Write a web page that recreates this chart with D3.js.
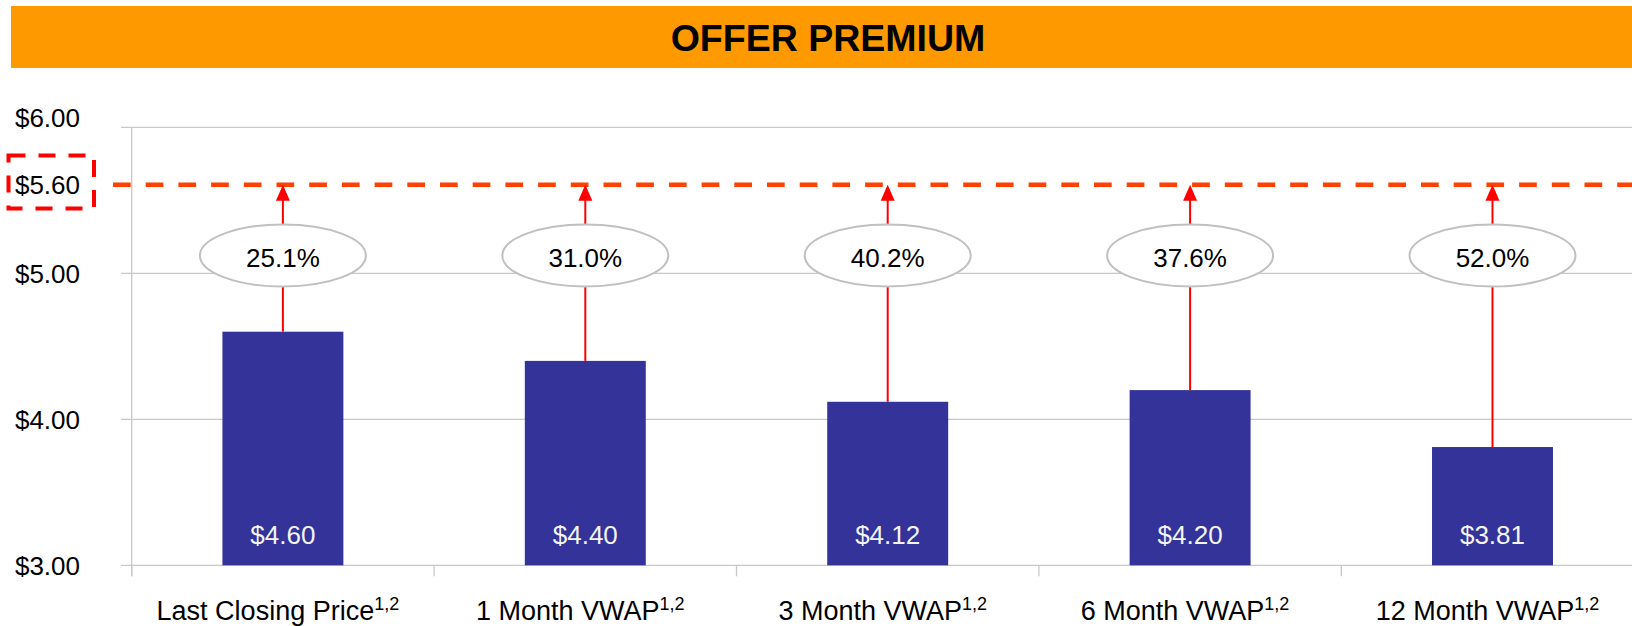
<!DOCTYPE html>
<html>
<head>
<meta charset="utf-8">
<script src="https://cdn.jsdelivr.net/npm/d3@7"></script>
<style>
  html, body { margin: 0; padding: 0; background: #fff; }
  svg { display: block; font-family: "Liberation Sans", Arial, sans-serif; }
</style>
</head>
<body>
<svg id="chart" width="1632" height="626"></svg>
<script>
// ---- data ----
const categories = ["Last Closing Price", "1 Month VWAP", "3 Month VWAP", "6 Month VWAP", "12 Month VWAP"];
const footnote = "1,2";
const prices = [4.60, 4.40, 4.12, 4.20, 3.81];
const premiums = ["25.1%", "31.0%", "40.2%", "37.6%", "52.0%"];
const offerPrice = 5.60;
const yTicks = [3, 4, 5, 6];
const title = "OFFER PREMIUM";

// ---- layout ----
const W = 1632, H = 626;
const axisX = 131.7, step = 302.4;
const yTop = 127.3, yBottom = 565.3;
const svg = d3.select("#chart");

const x = d3.scaleBand().domain(categories)
  .range([axisX, axisX + step * categories.length])
  .paddingInner(0.6).paddingOuter(0.3);
const y = d3.scaleLinear().domain([3, 6]).range([yBottom, yTop]);
const fmt = v => "$" + d3.format(".2f")(v);

// title banner
svg.append("rect").attr("x", 11).attr("y", 6).attr("width", W - 11).attr("height", 62).attr("fill", "#FF9900");
svg.append("text").attr("x", 828).attr("y", 50.5).attr("text-anchor", "middle")
  .attr("font-size", 37.5).attr("font-weight", "bold").attr("fill", "#000").text(title);

// gridlines + y axis
const yAxis = d3.axisLeft(y).tickValues(yTicks).tickFormat(fmt).tickSize(0).tickPadding(0);
const gy = svg.append("g");
gy.selectAll("line.grid").data(yTicks).enter().append("line")
  .attr("x1", 121).attr("x2", W).attr("y1", d => y(d)).attr("y2", d => y(d))
  .attr("stroke", "#c8c8c8").attr("stroke-width", 1.3);
svg.append("line").attr("x1", axisX).attr("x2", axisX).attr("y1", yTop).attr("y2", yBottom + 11)
  .attr("stroke", "#c8c8c8").attr("stroke-width", 1.3);

const ga = svg.append("g").attr("transform", `translate(80,0)`).call(yAxis);
ga.select(".domain").remove();
ga.selectAll("text").attr("font-size", 26).attr("fill", "#000")
  .attr("font-family", "'Liberation Sans', Arial, sans-serif")
  .attr("dy", (d) => d === 6 ? "-0.05em" : "0.35em")
  .attr("x", 0);

// category ticks
const bounds = categories.map((c, i) => axisX + i * step);
svg.selectAll("line.ctick").data(bounds).enter().append("line")
  .attr("x1", d => d).attr("x2", d => d).attr("y1", yBottom).attr("y2", yBottom + 11)
  .attr("stroke", "#c8c8c8").attr("stroke-width", 1.3);

// bars
svg.selectAll("rect.bar").data(prices).enter().append("rect")
  .attr("x", (d, i) => x(categories[i])).attr("width", x.bandwidth())
  .attr("y", d => y(d)).attr("height", d => y(3) - y(d))
  .attr("fill", "#333399");

// bar value labels
svg.selectAll("text.val").data(prices).enter().append("text")
  .attr("x", (d, i) => x(categories[i]) + x.bandwidth() / 2).attr("y", 544)
  .attr("text-anchor", "middle").attr("font-size", 26).attr("fill", "#f4f4f4")
  .text(fmt);

// offer dashed line
const yOffer = y(offerPrice) - 1;
svg.append("line").attr("x1", 113).attr("x2", W).attr("y1", yOffer).attr("y2", yOffer)
  .attr("stroke", "#FF4000").attr("stroke-width", 4.5).attr("stroke-dasharray", "17.7,15");

// arrows
const cx = (i) => x(categories[i]) + x.bandwidth() / 2;
svg.selectAll("line.arrow").data(prices).enter().append("line")
  .attr("x1", (d, i) => cx(i)).attr("x2", (d, i) => cx(i))
  .attr("y1", d => y(d)).attr("y2", yOffer + 14)
  .attr("stroke", "#FF0000").attr("stroke-width", 2);
svg.selectAll("path.head").data(prices).enter().append("path")
  .attr("d", (d, i) => `M${cx(i)},${yOffer} L${cx(i) + 7},${yOffer + 16} L${cx(i) - 7},${yOffer + 16} Z`)
  .attr("fill", "#FF0000");

// premium ellipses
const ellY = 255.5;
svg.selectAll("ellipse.prem").data(premiums).enter().append("ellipse")
  .attr("cx", (d, i) => cx(i)).attr("cy", ellY).attr("rx", 83).attr("ry", 31)
  .attr("fill", "#fff").attr("stroke", "#c0c0c0").attr("stroke-width", 2);
svg.selectAll("text.prem").data(premiums).enter().append("text")
  .attr("x", (d, i) => cx(i)).attr("y", 266.5).attr("text-anchor", "middle")
  .attr("font-size", 26).attr("fill", "#000").text(d => d);

// offer price label in dashed box
svg.append("rect").attr("x", 8.5).attr("y", 155.5).attr("width", 85.5).attr("height", 53)
  .attr("fill", "none").attr("stroke", "#FF0000").attr("stroke-width", 4)
  .attr("stroke-dasharray", "17,13");
svg.append("text").attr("x", 80).attr("y", yOffer + 9.5).attr("text-anchor", "end")
  .attr("font-size", 26).attr("fill", "#000").text(fmt(offerPrice));

// category labels with superscript
const cl = svg.selectAll("text.cat").data(categories).enter().append("text")
  .attr("x", (d, i) => cx(i) - 5).attr("y", 620).attr("text-anchor", "middle")
  .attr("font-size", 27).attr("fill", "#000");
cl.append("tspan").text(d => d);
cl.append("tspan").attr("font-size", 18).attr("dy", -10).text(footnote);
</script>
</body>
</html>
